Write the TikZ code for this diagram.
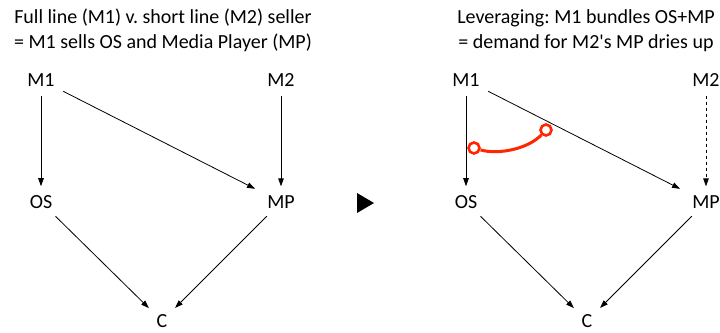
\documentclass[tikz,border=0pt]{standalone}
\usepackage{fontspec}
\setmainfont{Carlito}[Ligatures=TeXOff]
\frenchspacing
\usetikzlibrary{arrows.meta}

\definecolor{tiered}{RGB}{255,38,0}

\begin{document}
\begin{tikzpicture}[
    x=1pt, y=-1pt,
    >={Triangle[length=8pt,width=5.5pt]},
    every node/.style={font=\fontsize{20}{25}\selectfont},
    var/.style={inner sep=4pt},
    title/.style={align=center},
    link/.style={->, line width=0.8pt, shorten <=5pt, shorten >=5pt},
    tie/.style={circle, draw=tiered, fill=white, line width=2.6pt,
                minimum size=11pt, inner sep=0pt},
    tieline/.style={draw=tiered, line width=3pt},
]
\useasboundingbox (0,0) rectangle (720,332);

%% ---- LEFT PANEL: full line v. short line ----
\node[title] (ltitle) at (163,30.5)
    {Full line (M1) v. short line (M2) seller\\= M1 sells OS and Media Player (MP)};

\node[var] (lm1) at (41,80)   {M1};
\node[var] (lm2) at (281,80)  {M2};
\node[var] (los) at (41,202)  {OS};
\node[var] (lmp) at (281,202) {MP};
\node[var] (lc)  at (162,321) {C};

\draw[link] (lm1) -- (los);
\draw[link, shorten >=9pt] (lm1) -- (lmp);
\draw[link] (lm2) -- (lmp);
\draw[link] (los) -- (lc);
\draw[link] (lmp) -- (lc);

%% ---- arrow between panels ----
\fill (357,193) -- (374,203) -- (357,213) -- cycle;

%% ---- RIGHT PANEL: leveraging ----
\node[title] (rtitle) at (586,30.5)
    {Leveraging: M1 bundles OS+MP\\= demand for M2's MP dries up};

\node[var] (rm1) at (466,80)  {M1};
\node[var] (rm2) at (706,80)  {M2};
\node[var] (ros) at (466,202) {OS};
\node[var] (rmp) at (706,202) {MP};
\node[var] (rc)  at (587,321) {C};

\draw[link] (rm1) -- (ros);
\draw[link, shorten >=9pt] (rm1) -- (rmp);
\draw[link, dashed] (rm2) -- (rmp);
\draw[link] (ros) -- (rc);
\draw[link] (rmp) -- (rc);

%% ---- bundle tie OS+MP ----
\node[tie] (tieos) at (474,148) {};
\node[tie] (tiemp) at (546,130) {};
\draw[tieline] (tieos) .. controls (498,155) and (528,149) .. (tiemp);

\end{tikzpicture}
\end{document}
